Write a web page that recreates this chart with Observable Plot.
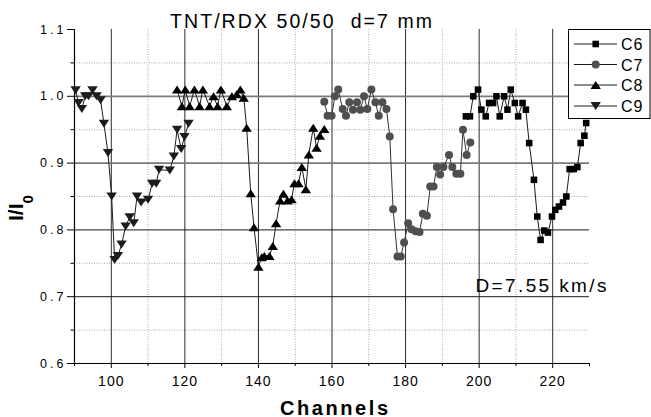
<!DOCTYPE html>
<html><head><meta charset="utf-8">
<script src="https://cdn.jsdelivr.net/npm/d3@7"></script>
<script src="https://cdn.jsdelivr.net/npm/@observablehq/plot@0.6"></script>
<style>
html,body{margin:0;padding:0;background:#fff;}
#chart svg{display:block;}
g[aria-label="y-axis tick label"]{font-size:12.5px;letter-spacing:3px;}
g[aria-label="x-axis tick label"]{font-size:14px;letter-spacing:1px;}
</style></head><body><div id="chart"></div>
<script>
// ---- text ----
const title = "TNT/RDX 50/50  d=7 mm";
const xLabel = "Channels";
const yLabelMain = "I/I";
const yLabelSub = "0";
const seriesNames = ["C6", "C7", "C8", "C9"];
const annotation = [{x: 199.0, y: 0.7162, text: "D=7.55 km/s"}];

// ---- ticks ----
const xTicks = [100, 120, 140, 160, 180, 200, 220];
const xMinorTicks = [90, 110, 130, 150, 170, 190, 210, 230];
const yTicks = [0.6, 0.7, 0.8, 0.9, 1.0, 1.1];
const yMinorTicks = [0.65, 0.75, 0.85, 0.95, 1.05];

// ---- series ----
const c9x = [90.3, 91.1, 92.0, 92.9, 93.8, 94.9, 96.0, 97.1, 98.0, 99.1, 100.1, 100.9, 101.8, 102.8, 103.9, 105.0, 106.1, 107.0, 108.1, 110.0, 111.1, 112.2, 113.0, 115.9, 117.0, 117.9, 119.0, 119.9, 121.0];
const c9y = [1.009, 0.99, 0.981, 1.0, 1.0, 1.009, 1.0, 0.994, 0.959, 0.915, 0.85, 0.755, 0.761, 0.778, 0.805, 0.819, 0.81, 0.85, 0.841, 0.845, 0.869, 0.869, 0.89, 0.889, 0.91, 0.95, 0.921, 0.939, 0.959];

const c8x = [117.9, 119.2, 120.1, 121.3, 122.6, 124.0, 124.9, 126.7, 127.8, 128.9, 129.8, 131.4, 132.8, 134.1, 135.1, 136.0, 136.8, 137.9, 138.8, 140.0, 140.9, 141.6, 143.0, 143.9, 144.8, 145.9, 146.8, 147.9, 149.0, 149.8, 150.9, 151.8, 152.9, 153.7, 154.9, 155.8, 156.7, 157.9];
const c8y = [1.01, 0.985, 1.01, 0.985, 1.01, 0.985, 1.01, 0.985, 1.0, 0.985, 1.01, 0.985, 1.0, 1.003, 1.01, 0.998, 0.953, 0.855, 0.804, 0.745, 0.759, 0.761, 0.761, 0.776, 0.81, 0.844, 0.854, 0.844, 0.846, 0.87, 0.87, 0.894, 0.861, 0.913, 0.953, 0.923, 0.941, 0.951];

const c7x = [157.9, 158.8, 159.9, 160.8, 161.7, 162.9, 163.8, 164.7, 165.7, 166.8, 167.7, 168.7, 169.6, 170.7, 171.8, 172.7, 173.7, 174.8, 175.7, 176.6, 177.8, 178.7, 179.6, 180.7, 181.6, 182.7, 183.8, 184.7, 185.8, 186.7, 187.6, 188.5, 189.4, 190.3, 191.8, 192.7, 193.8, 194.9, 195.6, 196.6, 197.6];
const c7y = [0.992, 0.971, 0.971, 1.0, 1.01, 0.981, 0.971, 0.991, 0.98, 0.991, 0.98, 1.0, 0.981, 1.01, 0.991, 0.971, 0.991, 0.981, 0.94, 0.831, 0.76, 0.76, 0.781, 0.81, 0.801, 0.798, 0.797, 0.824, 0.821, 0.865, 0.865, 0.894, 0.883, 0.894, 0.912, 0.894, 0.884, 0.884, 0.95, 0.912, 0.931];

const c6x = [196.4, 197.5, 198.4, 199.7, 200.6, 201.8, 202.7, 203.8, 204.7, 205.6, 206.8, 207.7, 208.6, 209.7, 210.6, 211.8, 212.7, 213.6, 214.9, 215.8, 216.7, 217.7, 218.7, 219.8, 220.7, 221.7, 222.8, 223.7, 224.6, 225.7, 226.7, 227.6, 228.6, 229.1];
const c6y = [0.97, 0.97, 1.0, 1.01, 0.98, 0.97, 0.99, 0.99, 1.0, 0.97, 1.0, 0.98, 1.01, 0.99, 0.97, 0.99, 0.98, 0.93, 0.875, 0.82, 0.785, 0.799, 0.796, 0.82, 0.83, 0.835, 0.841, 0.85, 0.891, 0.891, 0.894, 0.93, 0.941, 0.96];

const toRows = (xs, ys) => xs.map((x, i) => ({x, y: ys[i]}));
const C6 = toRows(c6x, c6y), C7 = toRows(c7x, c7y), C8 = toRows(c8x, c8y), C9 = toRows(c9x, c9y);

// custom triangle symbols
const triUp = {draw(ctx, size) { const r = Math.sqrt(size / Math.PI); const w = r * 1.3, h = r; ctx.moveTo(0, -h); ctx.lineTo(w, h); ctx.lineTo(-w, h); ctx.closePath(); }};
const triDown = {draw(ctx, size) { const r = Math.sqrt(size / Math.PI); const w = r * 1.3, h = r; ctx.moveTo(0, h); ctx.lineTo(w, -h); ctx.lineTo(-w, -h); ctx.closePath(); }};

const lineStyle = {x: "x", y: "y", stroke: "#1a1a1a", strokeWidth: 1};
const dotted = {stroke: "#a8a8a8", strokeWidth: 1, strokeDasharray: "1,1.5"};

const svg = Plot.plot({
  width: 651, height: 417,
  marginLeft: 74, marginRight: 62, marginTop: 29, marginBottom: 54,
  x: {domain: [90, 230]},
  y: {domain: [0.6, 1.1]},
  style: {fontFamily: "'Liberation Sans', Arial, sans-serif", fontSize: "14px", color: "#000", background: "#fff", overflow: "visible"},
  marks: [
    Plot.ruleX(xMinorTicks.filter(d => d > 90 && d < 230), dotted),
    Plot.ruleY(yMinorTicks, dotted),
    Plot.ruleX(xTicks, {stroke: "#2a2a2a", strokeWidth: 1}),
    Plot.ruleY(yTicks.filter(d => d >= 0.9 && d < 1.1), {stroke: "#7a7a7a", strokeWidth: 1.8}),
    Plot.ruleY(yTicks.filter(d => d > 0.6 && d < 0.9), {stroke: "#1a1a1a", strokeWidth: 1}),
    Plot.axisX(xTicks, {tickSize: 5, tickPadding: 8, label: null, tickFormat: d => String(d)}),
    Plot.axisX(xMinorTicks, {tickSize: 3, label: null, tickFormat: () => ""}),
    Plot.axisY(yTicks, {tickSize: 7, tickPadding: 1, label: null, tickFormat: d3.format(".1f")}),
    Plot.axisY(yMinorTicks, {tickSize: 3.5, label: null, tickFormat: () => ""}),
    Plot.ruleX([90], {stroke: "#000", strokeWidth: 1.2}),
    Plot.ruleY([0.6], {stroke: "#000", strokeWidth: 1.2}),
    Plot.line(C9, lineStyle),
    Plot.dot(C9, {x: "x", y: "y", symbol: triDown, r: 4, fill: "#1c1c1c"}),
    Plot.line(C8, lineStyle),
    Plot.dot(C8, {x: "x", y: "y", symbol: triUp, r: 4, fill: "#000"}),
    Plot.line(C7, {...lineStyle, stroke: "#333"}),
    Plot.dot(C7, {x: "x", y: "y", symbol: "circle", r: 4, fill: "#4f4f4f"}),
    Plot.line(C6, lineStyle),
    Plot.dot(C6, {x: "x", y: "y", symbol: "square", r: 3.7, fill: "#000"}),
    Plot.text(annotation, {x: "x", y: "y", text: "text", textAnchor: "start", fontSize: 19, fill: "#000"})
  ]
});
document.getElementById("chart").appendChild(svg);

const S = d3.select(svg);
S.selectAll('g[aria-label="text"] text').attr("textLength", 131).attr("lengthAdjust", "spacing");

// title
S.append("text").attr("x", 170).attr("y", 27.5).attr("text-anchor", "start").attr("font-size", 19.5).attr("fill", "#000")
  .attr("textLength", 262).attr("lengthAdjust", "spacing").text(title);
// x label
S.append("text").attr("x", 280).attr("y", 414.5).attr("text-anchor", "start").attr("font-size", 20).attr("font-weight", "bold")
  .attr("textLength", 108).attr("lengthAdjust", "spacing").text(xLabel);
// y label (rotated, with subscript)
const yl = S.append("text").attr("transform", "translate(23,221) rotate(-90)").attr("text-anchor", "start").attr("font-weight", "bold").attr("fill", "#000");
yl.append("tspan").attr("font-size", 21).text(yLabelMain);
yl.append("tspan").attr("font-size", 15).attr("dy", 10).text(yLabelSub);

// legend
const lg = S.append("g");
lg.append("rect").attr("x", 568.5).attr("y", 29.5).attr("width", 81.5).attr("height", 89).attr("fill", "#fff").attr("stroke", "#000").attr("stroke-width", 1);
const rowsY = [44, 64.5, 85, 106];
const legSym = [d3.symbol(d3.symbolSquare, 3.7 * 3.7 * Math.PI), d3.symbol(d3.symbolCircle, 16 * Math.PI), d3.symbol(triUp, 16 * Math.PI), d3.symbol(triDown, 16 * Math.PI)];
const legFill = ["#000", "#4f4f4f", "#000", "#1c1c1c"];
seriesNames.forEach((name, i) => {
  const y = rowsY[i];
  lg.append("line").attr("x1", 574).attr("x2", 617).attr("y1", y).attr("y2", y).attr("stroke", "#1a1a1a");
  lg.append("path").attr("d", legSym[i]()).attr("transform", `translate(595.7,${y})`).attr("fill", legFill[i]);
  lg.append("text").attr("x", 621).attr("y", y + 6).attr("text-anchor", "start").attr("font-size", 16).attr("letter-spacing", "1px").text(name);
});
</script></body></html>
